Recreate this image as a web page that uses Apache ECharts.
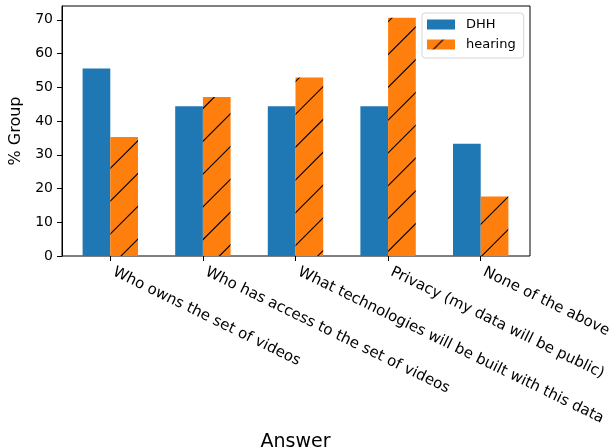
<!DOCTYPE html>
<html>
<head>
<meta charset="utf-8">
<script src="https://cdn.jsdelivr.net/npm/echarts@6/dist/echarts.min.js"></script>
<style>
  html, body { margin: 0; padding: 0; background: #ffffff; }
  #chart { width: 612px; height: 448px; }
</style>
</head>
<body>
<div id="chart"></div>
<script>
// Survey answers: share of each group (%) concerned about each topic
const categories = [
  'Who owns the set of videos',
  'Who has access to the set of videos',
  'What technologies will be built with this data',
  'Privacy (my data will be public)',
  'None of the above'
];
const dhhValues = [55.6, 44.4, 44.4, 44.4, 33.3];
const hearingValues = [35.3, 47.1, 52.9, 70.6, 17.6];
const yTickValues = [0, 10, 20, 30, 40, 50, 60, 70];
const seriesNames = ['DHH', 'hearing'];

const Y_MAX = 74.1;
const FONT = 'DejaVu Sans';

// Diagonal "/" hatch tile for the hearing bars (orange fill, black lines)
function makeHatch() {
  const period = 32.8, size = 164;          // 5 periods per tile -> seamless
  const c = document.createElement('canvas');
  c.width = size; c.height = size;
  const g = c.getContext('2d');
  g.fillStyle = '#ff7f0e';
  g.fillRect(0, 0, size, size);
  g.strokeStyle = '#000000';
  g.lineWidth = 1.1;
  for (let k = -1; k <= 11; k++) {
    const s = 16.2 + period * k;             // line: x + y = s
    g.beginPath();
    g.moveTo(s + 2, -2);
    g.lineTo(-2, s + 2);
    g.stroke();
  }
  return c;
}
const hatch = { image: makeHatch(), repeat: 'repeat' };

const chart = echarts.init(document.getElementById('chart'), null, { renderer: 'canvas' });

chart.setOption({
  animation: false,
  backgroundColor: '#ffffff',
  textStyle: { fontFamily: FONT },
  grid: [
    // frame + y axis
    { left: 62, width: 468, top: 6, height: 250, show: true, outerBoundsMode: 'none',
      containLabel: false,
      borderColor: '#000000', borderWidth: 1, backgroundColor: 'transparent' },
    // bars + category axis
    { left: 64, width: 463, top: 6, height: 250, show: false, outerBoundsMode: 'none',
      containLabel: false }
  ],
  xAxis: [
    { gridIndex: 0, type: 'value', min: 0, max: 1, show: false },
    {
      gridIndex: 1,
      type: 'category',
      data: categories,
      boundaryGap: true,
      axisLine: { show: false },
      axisTick: { show: true, alignWithLabel: true, length: 5,
        lineStyle: { color: '#000000', width: 1 } },
      axisLabel: {
        interval: 0, rotate: -26, align: 'left', verticalAlign: 'bottom',
        margin: 22, color: '#000000', fontSize: 15, fontFamily: FONT,
        hideOverlap: false
      },
      splitLine: { show: false },
      name: 'Answer',
      nameLocation: 'middle',
      nameGap: 164,
      nameTextStyle: { fontSize: 19, color: '#000000', fontFamily: FONT }
    }
  ],
  yAxis: [
    {
      gridIndex: 0,
      type: 'value',
      min: 0, max: Y_MAX,
      axisLine: { show: true, lineStyle: { color: '#000000', width: 1 } },
      axisTick: { show: true, length: 5, customValues: yTickValues,
        lineStyle: { color: '#000000', width: 1 } },
      axisLabel: { customValues: yTickValues, margin: 9, color: '#000000',
        fontSize: 14, fontFamily: FONT },
      splitLine: { show: false },
      name: '% Group',
      nameLocation: 'middle',
      nameRotate: 90,
      nameGap: 38,
      nameTextStyle: { fontSize: 16, color: '#000000', fontFamily: FONT }
    },
    { gridIndex: 1, type: 'value', min: 0, max: Y_MAX, show: false }
  ],
  legend: {
    orient: 'vertical',
    left: 422, top: 13,
    data: seriesNames,
    itemWidth: 28, itemHeight: 10, itemGap: 7,
    padding: [5, 8, 7, 5],
    borderColor: '#d6d6d6', borderWidth: 1, borderRadius: 3,
    backgroundColor: '#ffffff',
    icon: 'rect',
    textStyle: { fontSize: 13, color: '#000000', fontFamily: FONT,
      padding: [0, 0, 0, 6] }
  },
  series: [
    {
      name: seriesNames[0], type: 'bar',
      xAxisIndex: 1, yAxisIndex: 1,
      data: dhhValues,
      barWidth: 27.7, barGap: '0%',
      itemStyle: { color: '#1f77b4' },
      emphasis: { disabled: true }
    },
    {
      name: seriesNames[1], type: 'bar',
      xAxisIndex: 1, yAxisIndex: 1,
      data: hearingValues,
      barWidth: 27.7, barGap: '0%',
      itemStyle: { color: hatch },
      emphasis: { disabled: true }
    }
  ]
});
</script>
</body>
</html>
